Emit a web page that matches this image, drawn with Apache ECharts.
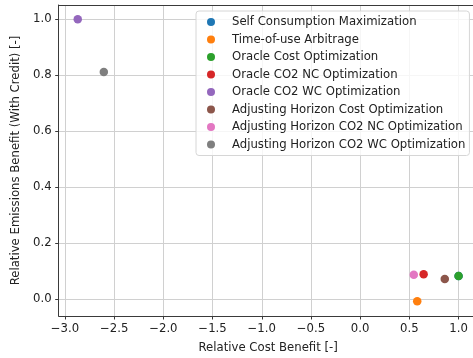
<!DOCTYPE html>
<html>
<head>
<meta charset="utf-8">
<script src="https://cdn.jsdelivr.net/npm/echarts@6/dist/echarts.min.js"></script>
<style>
  html, body { margin: 0; padding: 0; background: #fff; }
  #chart { width: 473px; height: 358px; }
</style>
</head>
<body>
<div id="chart"></div>
<script>
// Strategy names, one scatter point each
const strategies = [
  'Self Consumption Maximization',
  'Time-of-use Arbitrage',
  'Oracle Cost Optimization',
  'Oracle CO2 NC Optimization',
  'Oracle CO2 WC Optimization',
  'Adjusting Horizon Cost Optimization',
  'Adjusting Horizon CO2 NC Optimization',
  'Adjusting Horizon CO2 WC Optimization'
];
// Relative cost benefit per strategy
const costBenefit = [1.0, 0.58, 1.0, 0.645, -2.87, 0.86, 0.545, -2.605];
// Relative emissions benefit (with credit) per strategy
const emissionsBenefit = [0.082, -0.008, 0.082, 0.089, 1.0, 0.072, 0.087, 0.811];
// Tick labels
const xTicks = [-3.0, -2.5, -2.0, -1.5, -1.0, -0.5, 0.0, 0.5, 1.0];
const yTicks = [0.0, 0.2, 0.4, 0.6, 0.8, 1.0];

const palette = ['#1f77b4', '#ff7f0e', '#2ca02c', '#d62728', '#9467bd', '#8c564b', '#e377c2', '#7f7f7f'];

const fmt = v => Number(v).toFixed(1).replace('-', '\u2212');
const font = 'DejaVu Sans';
const fs = 11.7;
const spine = '#3a3a3a';
const gridColor = '#d0d0d0';

const chart = echarts.init(document.getElementById('chart'), null, { renderer: 'canvas' });

const series = strategies.map((name, i) => ({
  name: name,
  type: 'scatter',
  symbol: 'circle',
  symbolSize: 8.5,
  itemStyle: { color: palette[i], opacity: 1 },
  data: [[costBenefit[i], emissionsBenefit[i]]],
  z: 3 + i * 0.01
}));

// The plot area runs slightly past the right edge of the canvas
chart.setOption({
  animation: false,
  color: palette,
  grid: { left: 58.7, width: 418.9, top: 5, height: 311, containLabel: false, outerBoundsMode: 'none' },
  xAxis: [{
    type: 'value',
    min: -3.0635,
    max: 1.1935,
    name: 'Relative Cost Benefit [-]',
    nameLocation: 'middle',
    nameGap: 26,
    nameTextStyle: { fontFamily: font, fontSize: fs, color: '#222' },
    axisLine: { show: true, onZero: false, lineStyle: { color: spine, width: 1 } },
    axisTick: { show: true, length: 3.5, lineStyle: { color: spine }, customValues: xTicks },
    axisLabel: { customValues: xTicks, formatter: fmt, fontFamily: font, fontSize: fs, color: '#222', margin: 7 },
    splitLine: { show: true, lineStyle: { color: gridColor, width: 1 } }
  }, {
    type: 'value',
    position: 'top',
    min: -3.0635,
    max: 1.1935,
    axisLine: { show: true, onZero: false, lineStyle: { color: spine, width: 1 } },
    axisTick: { show: false },
    axisLabel: { show: false },
    splitLine: { show: false }
  }],
  yAxis: {
    type: 'value',
    min: -0.0605,
    max: 1.0505,
    name: 'Relative Emissions Benefit (With Credit) [-]',
    nameLocation: 'middle',
    nameGap: 29,
    nameRotate: 90,
    nameTextStyle: { fontFamily: font, fontSize: fs, color: '#222' },
    axisLine: { show: true, onZero: false, lineStyle: { color: spine, width: 1 } },
    axisTick: { show: true, length: 3.5, lineStyle: { color: spine }, customValues: yTicks },
    axisLabel: { customValues: yTicks, formatter: fmt, fontFamily: font, fontSize: fs, color: '#222', margin: 7 },
    splitLine: { show: true, lineStyle: { color: gridColor, width: 1 } }
  },
  legend: {
    orient: 'vertical',
    left: 196,
    top: 11,
    backgroundColor: 'rgba(255,255,255,0.8)',
    borderColor: '#d6d6d6',
    borderWidth: 1,
    borderRadius: 3,
    padding: [4, 4, 4, 11],
    itemWidth: 8,
    itemHeight: 8,
    itemGap: 3.5,
    icon: 'circle',
    textStyle: { fontFamily: font, fontSize: fs, color: '#222', lineHeight: 14, padding: [0, 0, 0, 12] },
    data: strategies
  },
  series: series
});
</script>
</body>
</html>
